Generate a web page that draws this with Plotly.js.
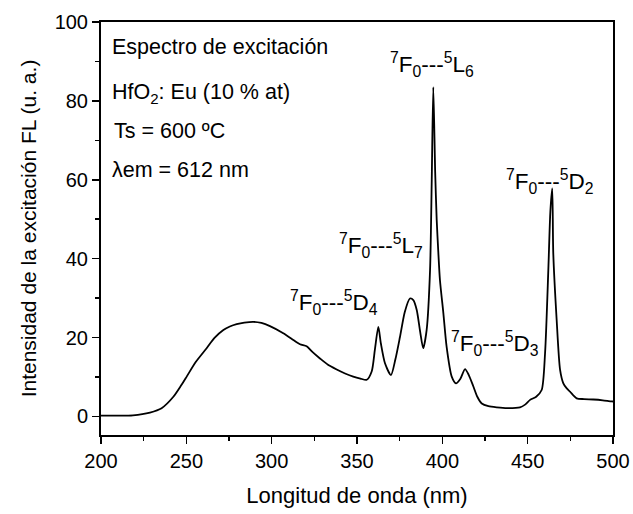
<!DOCTYPE html>
<html>
<head>
<meta charset="utf-8">
<script src="https://cdn.plot.ly/plotly-3.0.1.min.js"></script>
<style>html,body{margin:0;padding:0;background:#fff;}#chart{width:633px;height:514px;}</style>
</head>
<body>
<div id="chart"></div>
<script>
// Wavelength (nm)
const wavelength = [200, 210, 218.7, 228.7, 235.5, 242.4, 247.0, 250.2, 255.5, 261.9, 266.5, 271.7, 275.5, 279.5, 284.0, 289.3, 294.0, 299.0, 306.8, 312.0, 316.6, 320.5, 324.0, 328.3, 333.0, 338.1, 343.0, 347.8, 352.0, 355.7, 358.6, 360.5, 362.5, 364.0, 366.4, 369.9, 372.5, 375.2, 378.0, 381.0, 383.0, 385.0, 387.0, 388.8, 390.8, 392.8, 393.8, 394.7, 395.8, 396.7, 397.6, 398.6, 400.6, 402.5, 405.5, 408.0, 410.5, 413.3, 415.5, 418.2, 420.5, 423.1, 427.0, 431.9, 438.0, 445.5, 448.5, 451.4, 455.0, 458.2, 460.2, 462.1, 463.3, 464.4, 465.0, 467.0, 469.0, 470.9, 472.9, 474.8, 478.7, 483.0, 488.5, 494.0, 499.2, 500];
// Excitation intensity FL (a.u.)
const intensity = [0.2, 0.2, 0.3, 1.0, 2.1, 5.0, 7.9, 10.1, 13.8, 17.3, 19.9, 21.9, 22.8, 23.4, 23.8, 24.0, 23.7, 22.9, 21.1, 19.6, 18.3, 17.8, 16.3, 14.7, 13.1, 11.9, 10.9, 10.1, 9.6, 9.3, 11.4, 17.0, 22.7, 18.5, 13.5, 10.5, 14.5, 20.2, 26.5, 29.9, 29.5, 27.0, 21.5, 17.3, 21.9, 37.1, 60.0, 83.5, 62.0, 49.8, 42.0, 34.6, 26.2, 17.7, 10.1, 8.4, 9.5, 12.0, 10.5, 7.6, 5.0, 3.3, 2.6, 2.3, 2.1, 2.3, 3.0, 4.2, 5.0, 6.7, 16.1, 37.1, 52.0, 57.8, 41.4, 24.4, 11.8, 8.4, 7.1, 6.3, 4.6, 4.4, 4.3, 4.1, 3.8, 3.8];

const infoLines = ["Espectro de excitación", "HfO<sub>2</sub>: Eu (10 % at)", "Ts = 600 ºC", "λem = 612 nm"];
const infoX = [205.0, 205.0, 206.5, 205.0];
const infoY = [93.6, 81.9, 72.3, 62.4];

const transLabels = ["<sup>7</sup>F<sub>0</sub>---<sup>5</sup>L<sub>6</sub>", "<sup>7</sup>F<sub>0</sub>---<sup>5</sup>D<sub>2</sub>", "<sup>7</sup>F<sub>0</sub>---<sup>5</sup>L<sub>7</sub>", "<sup>7</sup>F<sub>0</sub>---<sup>5</sup>D<sub>4</sub>", "<sup>7</sup>F<sub>0</sub>---<sup>5</sup>D<sub>3</sub>"];
const transX = [394.0, 463.1, 364.1, 336.5, 430.9];
const transY = [89.3, 59.6, 43.4, 29.0, 18.6];

const font = {family: "Liberation Sans, Arial, sans-serif", color: "#000"};
const annotations = [];
infoLines.forEach((t, i) => annotations.push({x: infoX[i], y: infoY[i], xref: "x", yref: "y", text: t, showarrow: false, xanchor: "left", yanchor: "middle", font: Object.assign({}, font, {size: 21.5})}));
transLabels.forEach((t, i) => annotations.push({x: transX[i], y: transY[i], xref: "x", yref: "y", text: t, showarrow: false, xanchor: "center", yanchor: "middle", font: Object.assign({}, font, {size: 22.5})}));

const trace = {x: wavelength, y: intensity, type: "scatter", mode: "lines", line: {color: "#000", width: 1.8, shape: "spline", smoothing: 0.7}, hoverinfo: "none"};

const layout = {
  width: 633, height: 514,
  margin: {l: 101, r: 20, t: 22, b: 79},
  paper_bgcolor: "#fff", plot_bgcolor: "#fff",
  showlegend: false,
  font: Object.assign({}, font, {size: 20}),
  xaxis: {range: [200, 500], tickvals: [200, 250, 300, 350, 400, 450, 500], ticks: "outside", ticklen: 7, tickwidth: 1.5, tickcolor: "#000",
    minor: {dtick: 25, tick0: 200, ticks: "outside", ticklen: 4, tickwidth: 1.5, tickcolor: "#000", showgrid: false},
    showline: true, linecolor: "#000", linewidth: 2, mirror: true, showgrid: false, zeroline: false,
    tickfont: Object.assign({}, font, {size: 20}),
    title: {text: "Longitud de onda (nm)", font: Object.assign({}, font, {size: 22}), standoff: 17}},
  yaxis: {range: [-4.7, 100], tickvals: [0, 20, 40, 60, 80, 100], ticks: "outside", ticklen: 7, tickwidth: 1.5, tickcolor: "#000",
    minor: {dtick: 10, tick0: 0, ticks: "outside", ticklen: 4, tickwidth: 1.5, tickcolor: "#000", showgrid: false},
    showline: true, linecolor: "#000", linewidth: 2, mirror: true, showgrid: false, zeroline: false,
    tickfont: Object.assign({}, font, {size: 20}),
    title: {text: "Intensidad de la excitación FL (u. a.)", font: Object.assign({}, font, {size: 21}), standoff: 12}},
  annotations: annotations
};

Plotly.newPlot("chart", [trace], layout, {staticPlot: true, displayModeBar: false});
</script>
</body>
</html>
